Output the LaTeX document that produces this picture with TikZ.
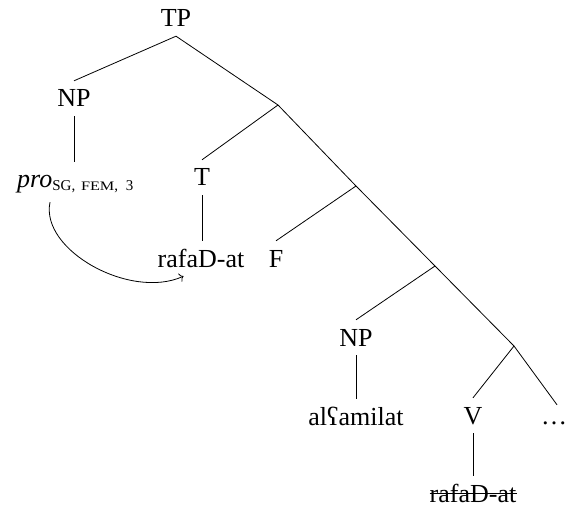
\documentclass[tikz,border=0pt]{standalone}
\usepackage{fontspec}
\setmainfont{Liberation Serif}
\usetikzlibrary{arrows.meta}
\tikzset{
  lbl/.style={anchor=base, text height=17bp, text depth=0pt, inner ysep=9bp, inner xsep=0pt,
    font=\fontsize{26bp}{30bp}\selectfont},
  edge/.style={line width=0.8bp},
}
\begin{document}
\begin{tikzpicture}[x=1bp,y=-1bp]
\useasboundingbox (0,0) rectangle (566,508);
% labels
\node[lbl] (TP) at (176,27) {TP};
\node[lbl] (NPa) at (74,107) {NP};
\node[lbl,anchor=base west] (pro) at (17,188) {\textit{pro}\raisebox{-3bp}{\fontsize{15bp}{15bp}\selectfont SG,\hspace{2bp} {\fontsize{13bp}{13bp}\selectfont\addfontfeature{FakeStretch=1.25}FEM},\hspace{4bp} 3}};
\node[lbl] (T) at (202,186) {T};
\node[lbl] (rafa) at (201,267) {rafaD-at};
\node[lbl] (F) at (276,267) {F};
\node[lbl] (NPb) at (356,346) {NP};
\node[lbl] (alf) at (356,425) {alʕamilat};
\node[lbl] (V) at (473,424) {V};
\node[lbl,text height=10bp] (dots) at (554,424) {\dots};
\node[lbl] (rafb) at (473,502) {rafaD-at};
% junctions
\coordinate (J2) at (278,105);
\coordinate (J3) at (356,186);
\coordinate (J4) at (435,266);
\coordinate (J5) at (514,346);
% branches
\draw[edge] (NPa.north) -- (TP.south) -- (J2) -- (J3) -- (J4) -- (J5) -- ([xshift=3bp]dots.north);
\draw[edge] (J2) -- (T.north);
\draw[edge] (J3) -- (F.north);
\draw[edge] (J4) -- (NPb.north);
\draw[edge] (J5) -- (V.north);
% unary
\draw[edge] (NPa.south) -- (NPa.south |- pro.north);
\draw[edge] (T.south) -- (T.south |- rafa.north);
\draw[edge] (NPb.south) -- (alf.north);
\draw[edge] (V.south) -- (rafb.north);
% strike-through
\draw[edge] ([yshift=9bp]rafb.base west) -- ([yshift=9bp]rafb.base east);
% movement arrow
\draw[edge,-{To[length=4bp,width=9bp]}] ([xshift=33bp,yshift=-5bp]pro.south west)
  .. controls +(-10,48) and +(-53,24) .. ([xshift=26bp]rafa.south west);
\end{tikzpicture}
\end{document}
